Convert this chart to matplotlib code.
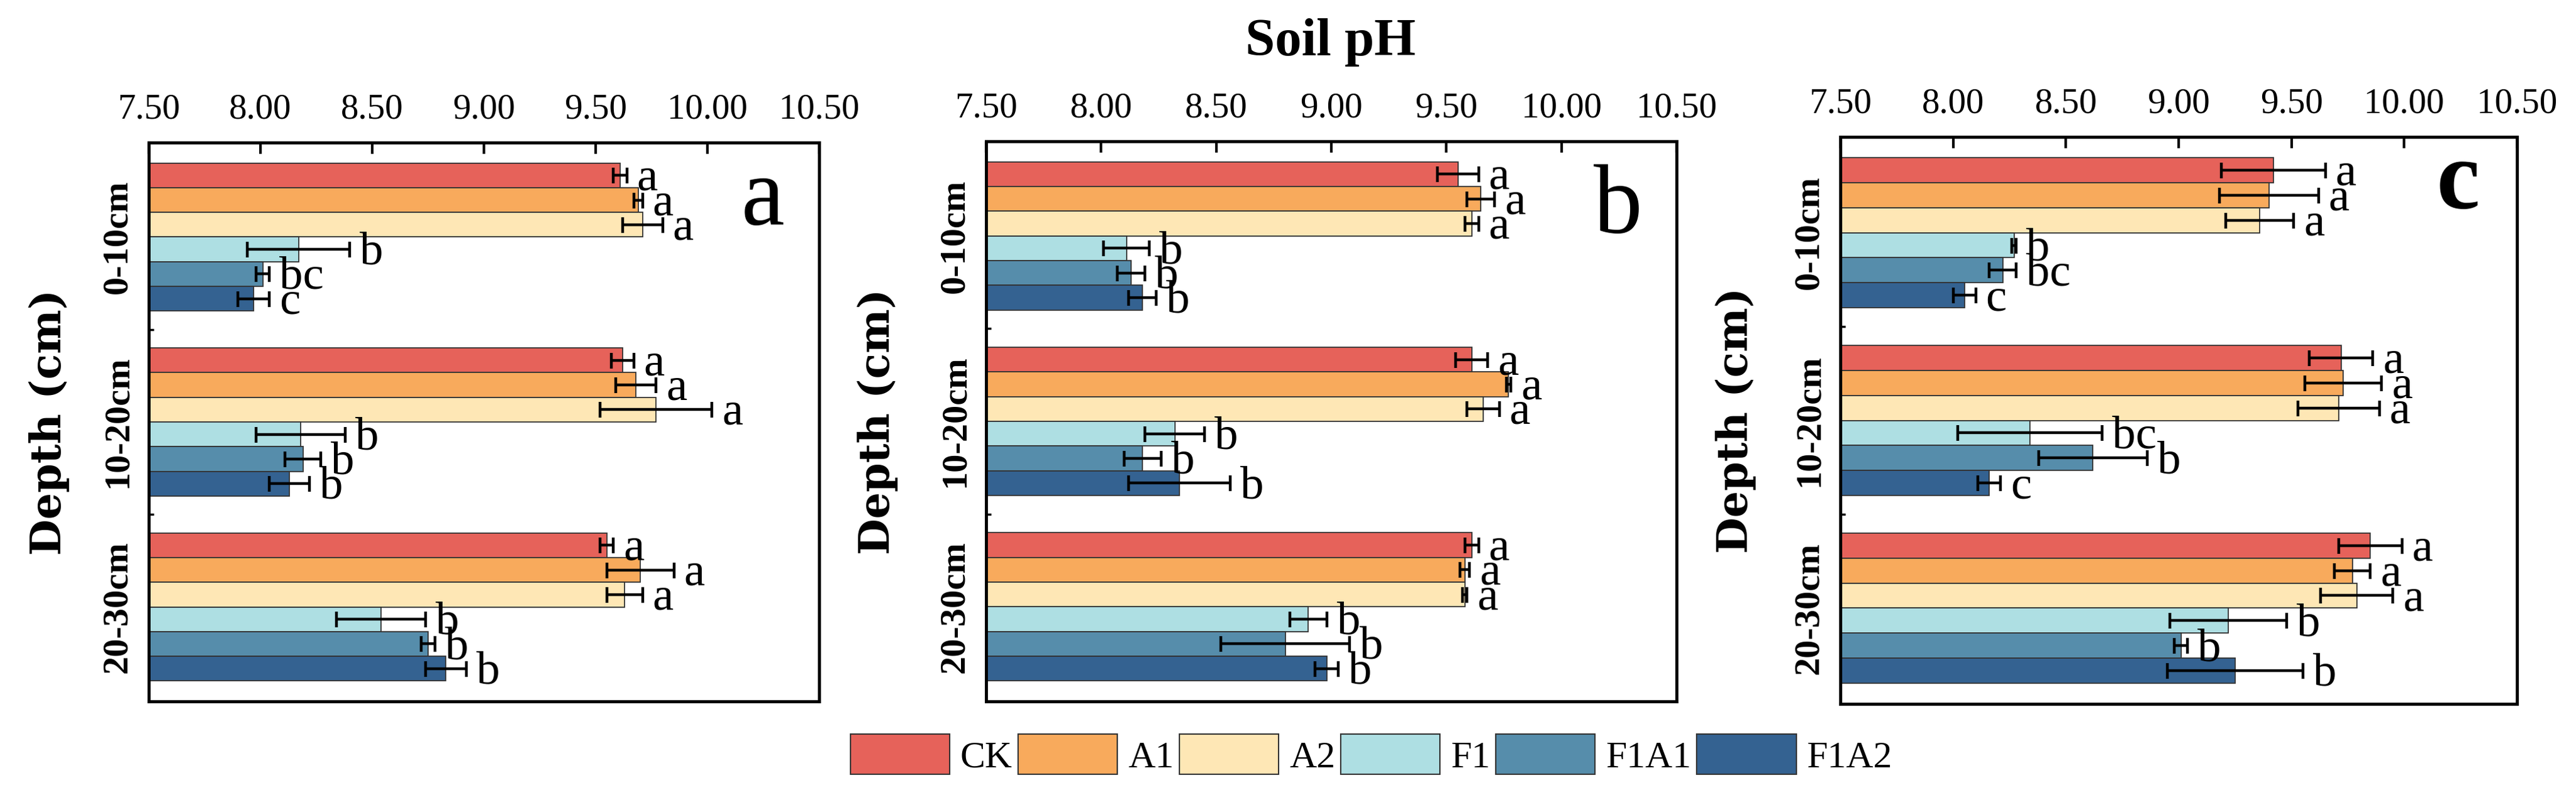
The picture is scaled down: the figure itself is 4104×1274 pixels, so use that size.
import matplotlib
matplotlib.use("Agg")
import matplotlib.pyplot as plt
from matplotlib.patches import Patch
from matplotlib.transforms import offset_copy

plt.rcParams['font.family'] = ['Liberation Serif', 'DejaVu Serif']

# ---------------- data ----------------
treatments = ["CK", "A1", "A2", "F1", "F1A1", "F1A2"]
depths = ["0-10cm", "10-20cm", "20-30cm"]
colors = ["#E6625A", "#F8AA5C", "#FEE7B5", "#AEDFE3", "#568DAB", "#346291"]
xticks = [7.5, 8.0, 8.5, 9.0, 9.5, 10.0, 10.5]

means_a = [[9.61, 9.69, 9.71, 8.17, 8.01, 7.97],
           [9.62, 9.68, 9.77, 8.18, 8.19, 8.13],
           [9.55, 9.70, 9.63, 8.54, 8.75, 8.83]]
errs_a = [[0.03, 0.02, 0.09, 0.23, 0.03, 0.07],
          [0.05, 0.09, 0.25, 0.20, 0.08, 0.09],
          [0.03, 0.15, 0.08, 0.20, 0.03, 0.09]]
letters_a = [["a", "a", "a", "b", "bc", "c"],
             ["a", "a", "a", "b", "b", "b"],
             ["a", "a", "a", "b", "b", "b"]]

means_b = [[9.55, 9.65, 9.61, 8.11, 8.13, 8.18],
           [9.61, 9.77, 9.66, 8.32, 8.18, 8.34],
           [9.61, 9.58, 9.58, 8.90, 8.80, 8.98]]
errs_b = [[0.09, 0.06, 0.03, 0.10, 0.06, 0.06],
          [0.07, 0.01, 0.07, 0.13, 0.08, 0.22],
          [0.03, 0.02, 0.01, 0.08, 0.28, 0.05]]
letters_b = [["a", "a", "a", "b", "b", "b"],
             ["a", "a", "a", "b", "b", "b"],
             ["a", "a", "a", "b", "b", "b"]]

means_c = [[9.42, 9.40, 9.36, 8.27, 8.22, 8.05],
           [9.72, 9.73, 9.71, 8.34, 8.62, 8.16],
           [9.85, 9.77, 9.79, 9.22, 9.01, 9.25]]
errs_c = [[0.23, 0.22, 0.15, 0.01, 0.06, 0.05],
          [0.14, 0.17, 0.18, 0.32, 0.24, 0.05],
          [0.14, 0.08, 0.16, 0.26, 0.03, 0.30]]
letters_c = [["a", "a", "a", "b", "bc", "c"],
             ["a", "a", "a", "bc", "b", "c"],
             ["a", "a", "a", "b", "b", "b"]]

panels = [
    dict(means=means_a, errs=errs_a, letters=letters_a, tag="a", tagweight="normal",
         box=(237, 227, 1305, 1117), tagpos=(0.916, 0.854), ylab_x=78),
    dict(means=means_b, errs=errs_b, letters=letters_b, tag="b", tagweight="normal",
         box=(1571, 225, 2671, 1117), tagpos=(0.915, 0.837), ylab_x=1398),
    dict(means=means_c, errs=errs_c, letters=letters_c, tag="c", tagweight="bold",
         box=(2932, 218, 4010, 1121), tagpos=(0.913, 0.874), ylab_x=2765),
]

W, H = 4104, 1274
fig = plt.figure(figsize=(W / 100, H / 100), dpi=100)

group_pitch = 7.5
nb = len(treatments)
edge = "#333333"

for p in panels:
    l, t, r, b = p["box"]
    ax = fig.add_axes([l / W, 1 - b / H, (r - l) / W, (b - t) / H])
    centers = []
    for g in range(len(depths)):
        pos = [g * group_pitch + j for j in range(nb)]
        centers.append(g * group_pitch + (nb - 1) / 2)
        ax.barh(pos, p["means"][g], height=1.0, color=colors, edgecolor=edge,
                linewidth=1.3, zorder=2)
        ax.errorbar(p["means"][g], pos, xerr=p["errs"][g], fmt="none", ecolor="black",
                    elinewidth=3.2, capsize=9, capthick=3.2, zorder=3)
        tr = offset_copy(ax.transData, fig=fig, x=16, y=0, units="dots")
        for j in range(nb):
            ax.text(p["means"][g][j] + p["errs"][g][j], pos[j] + 0.5 + 0.1,
                    p["letters"][g][j], transform=tr, ha="left", va="baseline",
                    fontsize=54, zorder=4)
    ax.set_xlim(xticks[0], xticks[-1])
    ax.set_ylim(2 * group_pitch + nb - 0.5 + 0.83, -0.5 - 0.83)
    ax.set_xticks(xticks)
    ax.set_xticklabels(["%.2f" % v for v in xticks], fontsize=41)
    ax.xaxis.tick_top()
    ax.tick_params(axis="x", which="major", direction="in", length=13, width=3,
                   pad=19, top=True, bottom=False, labeltop=True, labelbottom=False)
    ax.set_yticks(centers)
    ax.set_yticklabels(depths, rotation=90, va="center", fontsize=42, fontweight="bold")
    ax.tick_params(axis="y", which="major", length=0, pad=17)
    bounds = [g * group_pitch + nb - 0.5 + (group_pitch - nb) / 2 for g in range(len(depths) - 1)]
    ax.set_yticks(bounds, minor=True)
    ax.tick_params(axis="y", which="minor", direction="in", length=6, width=2.5)
    for s in ax.spines.values():
        s.set_linewidth(3.5)
        s.set_color("black")
    ax.text(p["tagpos"][0], p["tagpos"][1], p["tag"], transform=ax.transAxes,
            ha="center", va="baseline", fontsize=112, fontweight=p["tagweight"])
    fig.text(p["ylab_x"] / W, 1 - ((t + b) / 2) / H, "Depth (cm)", rotation=90,
             ha="center", va="center", fontsize=48, fontweight="bold",
             family=["DejaVu Serif"])

fig.text(2120 / W, 1 - 88 / H, "Soil pH", ha="center", va="baseline",
         fontsize=61, fontweight="bold")

handles = [Patch(facecolor=c, edgecolor=edge, linewidth=1.5) for c in colors]
fig.legend(handles, treatments, loc="center left", bbox_to_anchor=(1355 / W, 1 - 1202 / H),
           ncol=6, frameon=False, fontsize=43, handlelength=2.65, handleheight=1.27,
           handletextpad=0.28, columnspacing=0.15, borderpad=0, borderaxespad=0)

fig.savefig("out.png", dpi=100)
